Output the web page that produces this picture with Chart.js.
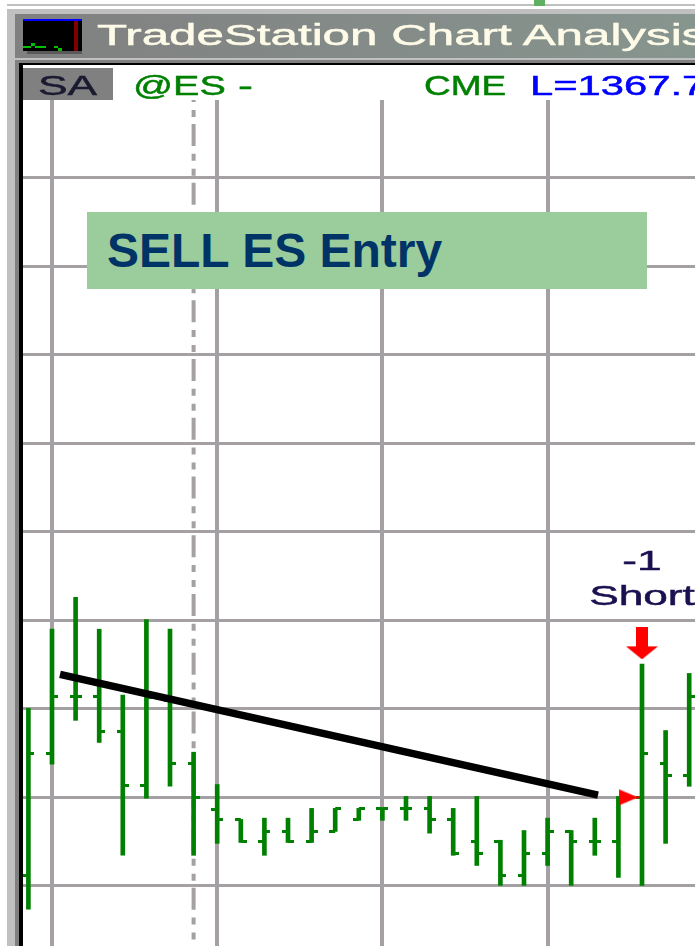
<!DOCTYPE html>
<html>
<head>
<meta charset="utf-8">
<title>SELL ES Entry</title>
<script src="https://cdn.jsdelivr.net/npm/chart.js@4"></script>
<style>
  html, body { margin: 0; padding: 0; background: #fff; }
  #page { position: relative; width: 698px; height: 946px; overflow: hidden; }
  #myChart { position: absolute; left: 0; top: 0; }
  .box { position: absolute; }
  .txt {
    position: absolute; white-space: pre; font-family: "Liberation Sans", Arial, sans-serif;
    font-size: 28px; line-height: normal; transform-origin: 0 0; -webkit-text-stroke: 0.5px currentColor;
  }
  #clipRight { position: absolute; left: 695px; top: 0; width: 3px; height: 946px; background: #fff; }
</style>
</head>
<body>
<div id="page">
  <canvas id="myChart" width="698" height="946"></canvas>

  <!-- window frame -->
  <div class="box" style="left:7px;top:4px;width:690px;height:2px;background:#c0c0c0"></div>
  <div class="box" style="left:534px;top:0;width:11px;height:6px;background:#5fb060"></div>
  <div class="box" style="left:7px;top:9px;width:690px;height:51px;background:#c0c0c0"></div>
  <div class="box" style="left:7px;top:60px;width:8px;height:886px;background:#c0c0c0"></div>
  <div class="box" style="left:15px;top:14px;width:682px;height:44px;background:linear-gradient(90deg,#808080,#87958f)"></div>
  <div class="box" style="left:15px;top:60px;width:682px;height:3px;background:#808080"></div>
  <div class="box" style="left:15px;top:60px;width:4px;height:886px;background:#808080"></div>
  <div class="box" style="left:19px;top:63px;width:678px;height:2px;background:#000"></div>
  <div class="box" style="left:19px;top:63px;width:4px;height:883px;background:#000"></div>

  <!-- small chart icon -->
  <svg class="box" style="left:23px;top:19px" width="60" height="35">
    <rect x="4" y="2" width="55" height="33" fill="#5a5a5a"/>
    <rect x="0" y="0" width="59" height="32" fill="#000"/>
    <rect x="0" y="0" width="59" height="2" fill="#0000ff"/>
    <rect x="51" y="2" width="4" height="30" fill="#800000"/>
    <rect x="0" y="27" width="8" height="2" fill="#00c000"/>
    <rect x="8" y="24" width="4" height="3" fill="#00c000"/>
    <rect x="12" y="27" width="11" height="2" fill="#00c000"/>
    <rect x="31" y="27" width="4" height="2" fill="#00c000"/>
    <rect x="35" y="29" width="4" height="3" fill="#00c000"/>
  </svg>

  <span class="txt" style="left:97px;top:19px;font-size:29px;color:#fdfbe8;transform:scaleX(1.7)">TradeStation Chart Analysis</span>

  <!-- header row of the chart -->
  <div class="box" style="left:23px;top:68px;width:90px;height:32px;background:#808080"></div>
  <span class="txt" style="left:38px;top:70px;color:#1a1a30;transform:scaleX(1.58)">SA</span>
  <span class="txt" style="left:133px;top:70px;color:#008000;transform:scaleX(1.41)">@ES</span>
  <span class="txt" style="left:238px;top:70px;color:#008000;transform:scaleX(1.6)">-</span>
  <span class="txt" style="left:424px;top:70px;color:#008000;transform:scaleX(1.32)">CME</span>
  <span class="txt" style="left:530px;top:70px;color:#0000ff;transform:scaleX(1.49)">L=1367.75</span>

  <!-- title box -->
  <div class="box" style="left:87px;top:212px;width:560px;height:77px;background:#9bcc9b"></div>
  <span class="txt" style="left:107px;top:223px;font-size:48px;font-weight:bold;color:#003366;-webkit-text-stroke:0">SELL ES Entry</span>

  <div id="clipRight"></div>
</div>

<script>
// Bars of the chart, left to right
const barIndex = [0, 1, 2, 3, 4, 5, 6, 7, 8, 9, 10, 11, 12, 13, 14, 15, 16, 17, 18, 19, 20, 21, 22, 23, 24, 25, 26, 27, 28];
const highs = [1368.01, 1369.80, 1370.52, 1369.80, 1368.31, 1370.02, 1369.80, 1367.02, 1366.29, 1365.50,
  1365.53, 1365.53, 1365.75, 1365.75, 1365.75, 1365.75, 1366.02, 1366.02, 1365.75, 1366.02,
  1365.03, 1365.25, 1365.53, 1365.25, 1365.53, 1366.02, 1369.01, 1367.51, 1368.80];
const lows = [1363.47, 1366.75, 1367.74, 1367.24, 1364.69, 1365.98, 1366.25, 1364.69, 1364.96, 1364.98,
  1364.69, 1364.98, 1364.98, 1365.23, 1365.48, 1365.48, 1365.48, 1365.19, 1364.69, 1364.46,
  1364.01, 1364.01, 1364.46, 1364.01, 1364.69, 1364.19, 1364.01, 1364.96, 1366.25];
const opens = [1364.24, 1366.99, 1368.28, 1368.28, 1367.49, 1366.27, 1368.19, 1366.77, 1365.73, 1365.50,
  1365.01, 1365.23, 1365.01, 1365.23, 1365.50, 1365.75, 1365.75, 1365.75, 1365.50, 1365.01,
  1365.01, 1364.24, 1364.73, 1365.23, 1365.01, 1365.01, 1366.00, 1366.77, 1366.50];
const closes = [1366.99, 1368.28, 1368.28, 1367.49, 1366.27, 1368.26, 1366.77, 1366.00, 1365.50, 1365.01,
  1365.23, 1365.01, 1365.23, 1365.75, 1365.75, 1365.75, 1365.75, 1365.50, 1364.73, 1364.73,
  1364.24, 1364.73, 1365.23, 1365.01, 1365.01, 1366.00, 1366.99, 1366.50, 1368.28];

// Grid lines
const priceLevels = [1364, 1366, 1368, 1370, 1372, 1374, 1376, 1378, 1380];
const sessionBars = [1, 8, 15, 22];
const sessionBreak = [7, 7];
const sessionBreakPrices = [1381.76, 1362.64];

// Trend line and signals
const trendBars = [1.339, 24.136];
const trendPrices = [1368.78, 1366.05];
const shortArrow = [26, 1369.48];
const entryArrow = [25.407, 1366];
const shortLabels = ["-1", "Short"];
const shortLabelPrices = [1371.13, 1370.34];

const green = "#008000";
const gridGray = "#a4a0a4";

// Small canvases used as point styles
function makeMark(w, h, draw) {
  const c = document.createElement("canvas");
  c.width = w;
  c.height = h;
  draw(c.getContext("2d"));
  return c;
}
const openTick = makeMark(12, 3, g => { g.fillStyle = green; g.fillRect(0, 0, 6, 3); });
const closeTick = makeMark(12, 3, g => { g.fillStyle = green; g.fillRect(6, 0, 6, 3); });
const downArrow = makeMark(36, 32, g => {
  g.fillStyle = "#ff0000";
  g.fillRect(12, 0, 12, 20);
  g.beginPath();
  g.moveTo(2, 19);
  g.lineTo(34, 19);
  g.lineTo(18, 32);
  g.closePath();
  g.fill();
});
const rightArrow = makeMark(24, 18, g => {
  g.fillStyle = "#ff0000";
  g.beginPath();
  g.moveTo(3, 1);
  g.lineTo(22, 9);
  g.lineTo(3, 17);
  g.closePath();
  g.fill();
  g.fillRect(18, 8, 6, 2);
});

function tickSeries(values, style) {
  return {
    type: "line",
    data: barIndex.map((x, i) => ({ x: x, y: values[i] })),
    showLine: false,
    pointStyle: style,
    order: 2
  };
}

// "-1" and "Short" above the short arrow, stretched like the rest of the chart's text
const shortLabelPlugin = {
  id: "shortLabel",
  afterDatasetsDraw(chart) {
    const g = chart.ctx;
    const x = chart.scales.x.getPixelForValue(shortArrow[0]);
    shortLabels.forEach((txt, i) => {
      const y = chart.scales.y.getPixelForValue(shortLabelPrices[i]);
      g.save();
      g.translate(x, y);
      g.scale(1.58, 1);
      g.font = "28px 'Liberation Sans', Arial, sans-serif";
      g.fillStyle = "#1a1050";
      g.strokeStyle = "#1a1050";
      g.lineWidth = 0.5;
      g.textAlign = "center";
      g.textBaseline = "alphabetic";
      g.fillText(txt, 0, 0);
      g.strokeText(txt, 0, 0);
      g.restore();
    });
  }
};

const ctx = document.getElementById("myChart").getContext("2d");
const myChart = new Chart(ctx, {
  type: "bar",
  data: {
    datasets: [
      {
        type: "line",
        data: [{ x: trendBars[0], y: trendPrices[0] }, { x: trendBars[1], y: trendPrices[1] }],
        borderColor: "#000",
        borderWidth: 7.5,
        pointRadius: 0,
        order: 0
      },
      {
        type: "line",
        data: [{ x: shortArrow[0], y: shortArrow[1] }],
        showLine: false,
        pointStyle: downArrow,
        order: 1
      },
      {
        type: "line",
        data: [{ x: entryArrow[0], y: entryArrow[1] }],
        showLine: false,
        pointStyle: rightArrow,
        order: 1
      },
      tickSeries(opens, openTick),
      tickSeries(closes, closeTick),
      {
        type: "bar",
        data: barIndex.map((x, i) => ({ x: x, y: [lows[i], highs[i]] })),
        backgroundColor: green,
        barThickness: 4,
        order: 3
      },
      {
        type: "line",
        data: [{ x: sessionBreak[0], y: sessionBreakPrices[0] }, { x: sessionBreak[1], y: sessionBreakPrices[1] }],
        borderColor: gridGray,
        borderWidth: 4,
        borderDash: [22, 7.75, 7, 8, 7, 7],
        borderDashOffset: 34.75,
        pointRadius: 0,
        order: 4
      }
    ]
  },
  options: {
    responsive: false,
    animation: false,
    layout: { autoPadding: false, padding: { left: 23, top: 100, right: 3, bottom: 0 } },
    plugins: { legend: { display: false }, tooltip: { enabled: false } },
    events: [],
    scales: {
      x: {
        type: "linear",
        offset: false,
        min: -0.2288,
        max: 28.2458,
        afterBuildTicks: s => { s.ticks = sessionBars.map(v => ({ value: v })); },
        ticks: { display: false },
        border: { display: false },
        grid: { offset: false, color: gridGray, lineWidth: 4, drawTicks: false }
      },
      y: {
        type: "linear",
        min: 1362.64,
        max: 1381.76,
        afterBuildTicks: s => { s.ticks = priceLevels.map(v => ({ value: v })); },
        ticks: { display: false },
        border: { display: false },
        grid: { color: gridGray, lineWidth: 3, drawTicks: false }
      }
    }
  },
  plugins: [shortLabelPlugin]
});
</script>
</body>
</html>
